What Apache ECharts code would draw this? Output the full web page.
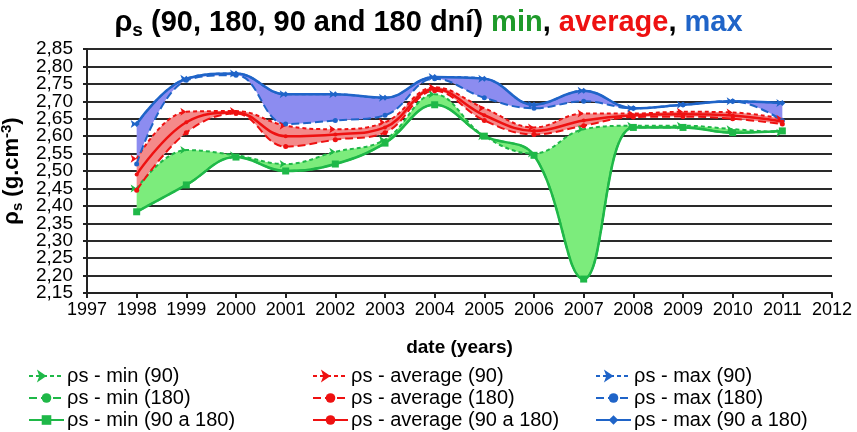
<!DOCTYPE html>
<html>
<head>
<meta charset="utf-8">
<script src="https://cdn.jsdelivr.net/npm/echarts@6/dist/echarts.min.js"></script>
<style>
html,body{margin:0;padding:0;background:#fff;}
#chart{width:857px;height:432px;}
</style>
</head>
<body>
<div id="chart"></div>
<script>
// ---- data ----
const years = [1998, 1999, 2000, 2001, 2002, 2003, 2004, 2005, 2006, 2007, 2008, 2009, 2010, 2011];

const min90   = [2.45, 2.56, 2.545, 2.52, 2.555, 2.59, 2.72, 2.60, 2.55, 2.62, 2.63, 2.63, 2.62, 2.61];
const min180  = [2.383, 2.46, 2.54, 2.50, 2.52, 2.58, 2.69, 2.60, 2.545, 2.19, 2.625, 2.625, 2.61, 2.615];
const minAll  = [2.383, 2.46, 2.54, 2.50, 2.52, 2.58, 2.69, 2.60, 2.545, 2.19, 2.625, 2.625, 2.61, 2.615];

const avg90   = [2.535, 2.67, 2.672, 2.63, 2.62, 2.64, 2.74, 2.68, 2.625, 2.665, 2.665, 2.67, 2.668, 2.65];
const avg180  = [2.445, 2.61, 2.665, 2.57, 2.59, 2.61, 2.73, 2.645, 2.605, 2.63, 2.655, 2.656, 2.65, 2.635];
const avgAll  = [2.49, 2.64, 2.668, 2.60, 2.605, 2.625, 2.735, 2.66, 2.615, 2.645, 2.66, 2.663, 2.659, 2.642];

const max90   = [2.635, 2.765, 2.78, 2.72, 2.72, 2.71, 2.77, 2.765, 2.69, 2.73, 2.68, 2.69, 2.70, 2.695];
const max180  = [2.52, 2.76, 2.775, 2.635, 2.645, 2.66, 2.765, 2.71, 2.68, 2.70, 2.68, 2.69, 2.70, 2.645];
const maxAll  = [2.635, 2.765, 2.78, 2.72, 2.72, 2.71, 2.77, 2.765, 2.69, 2.73, 2.68, 2.69, 2.70, 2.695];

const yTicks = {min: 2.15, max: 2.85, step: 0.05};
const xTicks = {min: 1997, max: 2012, step: 1};

const names = {
  min90: 'ρs - min (90)', min180: 'ρs - min (180)', minAll: 'ρs - min (90 a 180)',
  avg90: 'ρs - average (90)', avg180: 'ρs - average (180)', avgAll: 'ρs - average (90 a 180)',
  max90: 'ρs - max (90)', max180: 'ρs - max (180)', maxAll: 'ρs - max (90 a 180)'
};

// ---- build ----
const GREEN = '#1fb848', RED = '#ee1111', BLUE = '#1f64c8';
const FONT = 'Liberation Sans, Arial, sans-serif';
const SMOOTH = 0.4;

function pts(arr){ return years.map((y,i)=>[y, arr[i]]); }
// value first so that stacking happens on the y dimension (encode maps it back)
function ptsYX(arr){ return years.map((y,i)=>[arr[i], y]); }
function diffYX(top, bot){ return years.map((y,i)=>[+(top[i]-bot[i]).toFixed(4), y]); }

function lineSeries(name, arr, color, type, symbol, size, z){
  return {
    name, type:'line', data: pts(arr), smooth: SMOOTH,
    symbol, symbolSize: size, symbolRotate: symbol === 'arrow' ? -90 : 0,
    showSymbol: true,
    lineStyle: {color, width: type === 'solid' ? 2.5 : 2, type: type === 'dot' ? [4,3] : (type === 'dash' ? [8,4] : 'solid')},
    itemStyle: {color},
    z: z, animation: false
  };
}
function fillPair(id, bot, top, fillColor){
  return [
    {type:'line', stack:id, stackStrategy:'all', data: ptsYX(bot), encode:{x:1, y:0}, smooth: SMOOTH, symbol:'none',
     lineStyle:{opacity:0}, silent:true, z:1, animation:false},
    {type:'line', stack:id, stackStrategy:'all', data: diffYX(top, bot), encode:{x:1, y:0}, smooth: SMOOTH, symbol:'none',
     lineStyle:{opacity:0}, areaStyle:{color: fillColor, opacity:1}, silent:true, z:1, animation:false}
  ];
}

const series = [].concat(
  fillPair('gfill', minAll, min90, '#7cec7c'),
  fillPair('rfill', avg180, avg90, '#f48a8a'),
  fillPair('bfill', max180, maxAll, '#8c8cf0'),
  [
    lineSeries(names.min90,  min90,  GREEN, 'dot',  'arrow', 6, 3),
    lineSeries(names.min180, min180, GREEN, 'dash', 'circle', 5, 3),
    lineSeries(names.minAll, minAll, GREEN, 'solid','rect', 7, 4),
    lineSeries(names.avg90,  avg90,  RED,   'dot',  'arrow', 6, 3),
    lineSeries(names.avg180, avg180, RED,   'dash', 'circle', 5, 3),
    lineSeries(names.avgAll, avgAll, RED,   'solid','circle', 4, 4),
    lineSeries(names.max90,  max90,  BLUE,  'dot',  'arrow', 6, 3),
    lineSeries(names.max180, max180, BLUE,  'dash', 'circle', 5, 3),
    lineSeries(names.maxAll, maxAll, BLUE,  'solid','diamond', 6, 4)
  ]
);

function legendCol(left, keys){
  return {
    orient:'vertical', left: left, top: 366, itemGap: 2, padding: 0,
    itemWidth: 35, itemHeight: 12,
    data: keys.map(k=>names[k]),
    textStyle: {fontFamily: FONT, fontSize: 20, color:'#000', lineHeight: 20, padding:[0,0,0,-2]},
    selectedMode: false
  };
}

// tick label helper: index of a tick value on the y scale
function yStepIndex(v){ return Math.round((v - yTicks.min) / yTicks.step); }
function yLabel(v){ return v.toFixed(2).replace('.', ','); }

const yAxisBase = {
  type:'value', min: yTicks.min, max: yTicks.max, interval: yTicks.step, position:'left'
};

const option = {
  backgroundColor: '#fff',
  animation: false,
  title: {
    left: 'center', top: 1,
    text: '{a|ρ}{s|s}{a| (90, 180, 90 and 180 dní) }{g|min}{a|, }{r|average}{a|, }{b|max}',
    textStyle: {
      rich: {
        a: {fontFamily: FONT, fontSize: 29, fontWeight:'bold', color:'#000', lineHeight: 34},
        s: {fontFamily: FONT, fontSize: 19, fontWeight:'bold', color:'#000', verticalAlign:'bottom', lineHeight: 24},
        g: {fontFamily: FONT, fontSize: 29, fontWeight:'bold', color:'#1e9a2a', lineHeight: 34},
        r: {fontFamily: FONT, fontSize: 29, fontWeight:'bold', color:'#ee1111', lineHeight: 34},
        b: {fontFamily: FONT, fontSize: 29, fontWeight:'bold', color:'#1f64c8', lineHeight: 34}
      }
    }
  },
  grid: {left: 87, right: 25, top: 49, bottom: 139, containLabel: false, outerBoundsMode: 'none'},
  xAxis: {
    type:'value', min: xTicks.min, max: xTicks.max, interval: xTicks.step,
    name: 'date (years)', nameLocation:'middle', nameGap: 45,
    nameTextStyle: {fontFamily: FONT, fontSize: 19, fontWeight:'bold', color:'#000'},
    axisLine: {show:true, lineStyle:{color:'#222', width:2}},
    axisTick: {show:true, inside:false, length:5, lineStyle:{color:'#222', width:2}},
    axisLabel: {fontFamily: FONT, fontSize: 18, color:'#000', margin: 8, showMinLabel:true, showMaxLabel:true,
      hideOverlap:false, formatter: v => String(v)},
    splitLine: {show:false}
  },
  yAxis: [
    Object.assign({}, yAxisBase, {
      name: '{a|ρ}{s|s}{a| (g.cm}{p|-3}{a|)}', nameLocation:'middle', nameGap: 56, nameRotate: 90,
      nameTextStyle: {
        rich: {
          a: {fontFamily: FONT, fontSize: 22, fontWeight:'bold', color:'#000', lineHeight: 26},
          s: {fontFamily: FONT, fontSize: 15, fontWeight:'bold', color:'#000', verticalAlign:'bottom', lineHeight: 18},
          p: {fontFamily: FONT, fontSize: 15, fontWeight:'bold', color:'#000', verticalAlign:'top', lineHeight: 18}
        }
      },
      axisLine: {show:true, lineStyle:{color:'#222', width:2}},
      axisTick: {show:true, inside:false, length:4, lineStyle:{color:'#222', width:2}},
      axisLabel: {fontFamily: FONT, fontSize: 19, color:'#000', margin: 14,
        showMinLabel:true, showMaxLabel:true, hideOverlap:false,
        formatter: v => (yStepIndex(v) % 2 === 0 ? yLabel(v) : '')},
      splitLine: {show:true, showMinLine:true, showMaxLine:true, lineStyle:{color:'#2a2a2a', width:2}}
    }),
    Object.assign({}, yAxisBase, {
      axisLine: {show:false}, axisTick: {show:false}, splitLine: {show:false},
      axisLabel: {fontFamily: FONT, fontSize: 19, color:'#000', margin: 14,
        showMinLabel:false, showMaxLabel:false, hideOverlap:false,
        formatter: v => (yStepIndex(v) % 2 === 1 ? yLabel(v) : '')}
    })
  ],
  legend: [
    legendCol(28, ['min90','min180','minAll']),
    legendCol(312, ['avg90','avg180','avgAll']),
    legendCol(595, ['max90','max180','maxAll'])
  ],
  series: series
};

const chart = echarts.init(document.getElementById('chart'), null, {renderer:'canvas'});
chart.setOption(option);
</script>
</body>
</html>
